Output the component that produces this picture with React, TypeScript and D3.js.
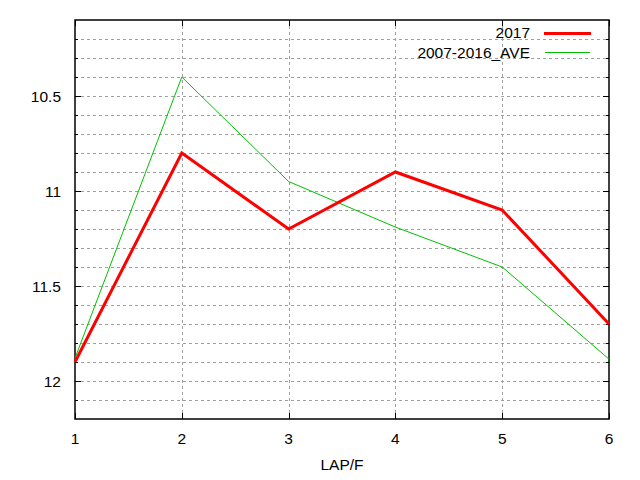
import * as d3 from 'd3';

// LAP/F values
const laps = [1, 2, 3, 4, 5, 6];
const series2017 = [11.9, 10.8, 11.2, 10.9, 11.1, 11.7];
const seriesAve = [11.88, 10.4, 10.95, 11.19, 11.4, 11.885];
const yMajorTicks = [10.5, 11, 11.5, 12];
const seriesNames = ['2017', '2007-2016_AVE'];

const W = 640;
const H = 480;
const margin = { top: 20, right: 31, bottom: 61, left: 75 };
const FONT = '"Liberation Sans", Arial, sans-serif';

export default function App() {
    const x = d3.scaleLinear().domain([1, 6]).range([margin.left, W - margin.right]);
    const y = d3.scaleLinear().domain([10.1, 12.2]).range([margin.top, H - margin.bottom]);

    const [x0, x1] = x.range();
    const [y0, y1] = y.range();

    // minor ticks every 0.1
    const yMinor = d3.range(102, 122).map(v => v / 10);

    const line = d3.line<number>()
        .x((_, i) => x(laps[i]))
        .y(d => y(d));

    const gridColor = '#a0a0a0';

    return (
        <svg width={W} height={H} style={{ position: 'absolute', left: 0, top: 0, background: '#fff' }}>
            {/* Grid */}
            <g stroke={gridColor} strokeWidth={1} strokeDasharray="3,3">
                {yMinor.map(v => (
                    <line key={'gy' + v} x1={x0} x2={x1} y1={Math.round(y(v)) + 0.5} y2={Math.round(y(v)) + 0.5} />
                ))}
                {laps.slice(1, -1).map(v => (
                    <line key={'gx' + v} x1={Math.round(x(v)) + 0.5} x2={Math.round(x(v)) + 0.5} y1={y0} y2={y1} />
                ))}
            </g>

            {/* Ticks */}
            <g stroke="#000" strokeWidth={1}>
                {yMinor.map(v => {
                    const major = yMajorTicks.some(t => Math.abs(t - v) < 1e-6);
                    const len = major ? 6 : 3;
                    const yy = Math.round(y(v)) + 0.5;
                    return (
                        <g key={'ty' + v}>
                            <line x1={x0} x2={x0 + len} y1={yy} y2={yy} />
                            <line x1={x1} x2={x1 - len} y1={yy} y2={yy} />
                        </g>
                    );
                })}
                {laps.map(v => {
                    const xx = Math.round(x(v)) + 0.5;
                    return (
                        <g key={'tx' + v}>
                            <line x1={xx} x2={xx} y1={y1} y2={y1 - 6} />
                            <line x1={xx} x2={xx} y1={y0} y2={y0 + 6} />
                        </g>
                    );
                })}
            </g>

            {/* Border */}
            <rect x={x0} y={y0} width={x1 - x0} height={y1 - y0} fill="none" stroke="#000" strokeWidth={1.5} />

            {/* Tick labels */}
            <g fontFamily={FONT} fontSize={15.5} fill="#000">
                {yMajorTicks.map(v => (
                    <text key={'ly' + v} x={x0 - 14} y={y(v) + 5.5} textAnchor="end">{String(v)}</text>
                ))}
                {laps.map(v => (
                    <text key={'lx' + v} x={x(v)} y={y1 + 25} textAnchor="middle">{String(v)}</text>
                ))}
                <text x={(x0 + x1) / 2} y={470} textAnchor="middle">LAP/F</text>
            </g>

            {/* Series */}
            <path d={line(seriesAve) || ''} fill="none" stroke="#00c000" strokeWidth={1} />
            <path d={line(series2017) || ''} fill="none" stroke="#ff0000" strokeWidth={3} strokeLinejoin="miter" />

            {/* Legend */}
            <g fontFamily={FONT} fontSize={15.5} fill="#000">
                <text x={530} y={38} textAnchor="end">{seriesNames[0]}</text>
                <line x1={544} x2={591} y1={33.5} y2={33.5} stroke="#ff0000" strokeWidth={3} />
                <text x={530} y={57.5} textAnchor="end">{seriesNames[1]}</text>
                <line x1={545} x2={590} y1={52.5} y2={52.5} stroke="#00c000" strokeWidth={1} />
            </g>
        </svg>
    );
}
